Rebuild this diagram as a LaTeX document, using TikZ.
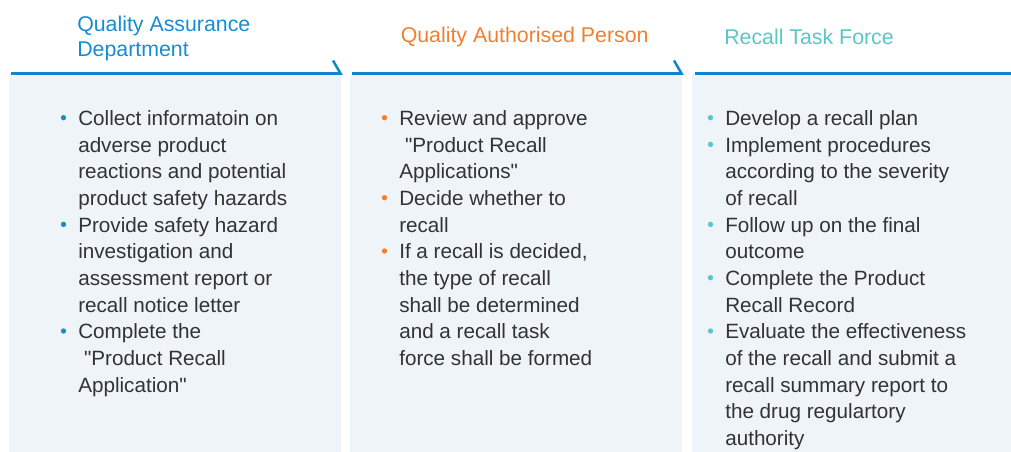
\documentclass[tikz,border=0pt]{standalone}
\usepackage{fontspec}
\setmainfont{Liberation Sans}
\usetikzlibrary{positioning}

\definecolor{qablue}{RGB}{22,140,210}
\definecolor{qporange}{RGB}{240,128,48}
\definecolor{rtteal}{RGB}{92,198,198}
\definecolor{rulecol}{RGB}{17,134,208}
\definecolor{panelbg}{RGB}{239,244,249}
\definecolor{txtgrey}{RGB}{51,51,51}
\newcommand{\qq}{\textquotedbl}

\begin{document}
\begin{tikzpicture}[
    x=0.75pt,y=-0.75pt,
    panel/.style={fill=panelbg},
    rule/.style={draw=rulecol,line width=1.9pt},
    title/.style={anchor=base west,align=left,inner sep=0pt,text=#1,
      font=\fontsize{16}{18.75}\selectfont},
    entry/.style={anchor=north west,align=left,inner sep=0pt,text=txtgrey,
      font=\fontsize{15.5}{20}\selectfont},
    dot/.style={circle,fill=#1,inner sep=0pt,minimum size=4pt}
]
\useasboundingbox (0,0) rectangle (1011,452);

%Draw the panels
\fill[panel] (8.5,74) rectangle (341,452);
\fill[panel] (349.5,74) rectangle (681.5,452);
\fill[panel] (692,74) rectangle (1011,452);

%Draw the header rules
\coordinate (r1a) at (11,73.5);  \coordinate (r1b) at (340.5,73.5); \coordinate (t1) at (333,60.5);
\coordinate (r2a) at (352,73.5); \coordinate (r2b) at (681.5,73.5); \coordinate (t2) at (674,60.5);
\coordinate (r3a) at (695,73.5); \coordinate (r3b) at (1011,73.5);
\draw[rule] (r1a) -- (r1b) -- (t1);
\draw[rule] (r2a) -- (r2b) -- (t2);
\draw[rule] (r3a) -- (r3b);

%Draw the titles
\node[title=qablue,anchor=north west] (qa) at (77,15.5) {Quality Assurance\\Department};
\node[title=qporange] (qp) at (400.5,42.5) {Quality Authorised Person};
\node[title=rtteal] (rt) at (724,44.7) {Recall Task Force};

%Quality Assurance Department
\node[entry] (qa1) at (78,110.2) {Collect informatoin on\\adverse product\\reactions and potential\\product safety hazards};
\node[entry] (qa2) at (78,216.9) {Provide safety hazard\\investigation and\\assessment report or\\recall notice letter};
\node[entry] (qa3) at (78,323.5) {Complete the\\\ \qq Product Recall\\Application\qq};

%Quality Authorised Person
\node[entry] (qp1) at (399,110.2) {Review and approve\\\ \qq Product Recall\\Applications\qq};
\node[entry] (qp2) at (399,190.2) {Decide whether to\\recall};
\node[entry] (qp3) at (399,243.5) {If a recall is decided,\\the type of recall\\shall be determined\\and a recall task\\force shall be formed};

%Recall Task Force
\node[entry] (rt1) at (725,110.2) {Develop a recall plan};
\node[entry] (rt2) at (725,136.9) {Implement procedures\\according to the severity\\of recall};
\node[entry] (rt3) at (725,216.9) {Follow up on the final\\outcome};
\node[entry] (rt4) at (725,270.2) {Complete the Product\\Recall Record};
\node[entry] (rt5) at (725,323.5) {Evaluate the effectiveness\\of the recall and submit a\\recall summary report to\\the drug regulartory\\authority};

%Draw the bullets
\foreach \n in {qa1,qa2,qa3}
  \node[dot=qablue] (\n d) at ([shift={(-14.5,7.5)}]\n.north west) {};
\foreach \n in {qp1,qp2,qp3}
  \node[dot=qporange] (\n d) at ([shift={(-14.5,7.5)}]\n.north west) {};
\foreach \n in {rt1,rt2,rt3,rt4,rt5}
  \node[dot=rtteal] (\n d) at ([shift={(-14.5,7.5)}]\n.north west) {};

\end{tikzpicture}
\end{document}
